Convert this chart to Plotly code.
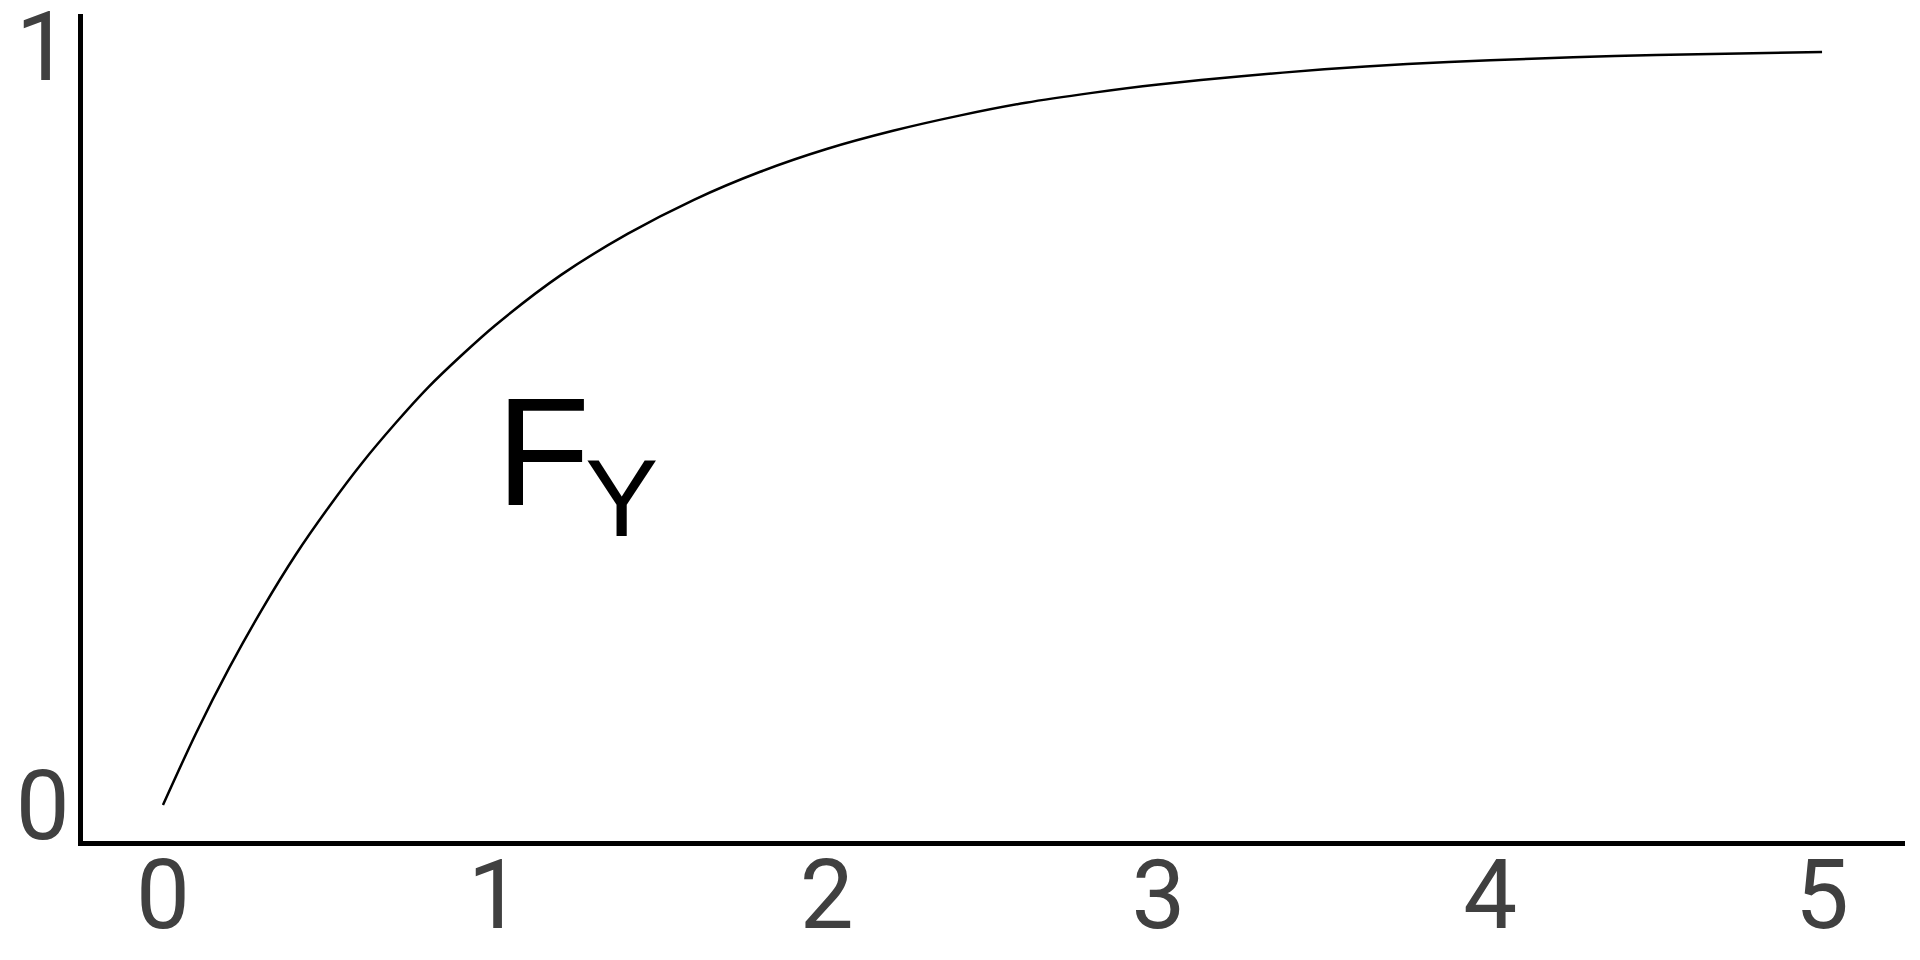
import plotly.graph_objects as go

# values
x_vals = [0.0, 0.1, 0.2, 0.3, 0.4, 0.5, 0.6, 0.7, 0.8, 0.9, 1.0, 1.2, 1.4, 1.6, 1.8,
          2.0, 2.2, 2.4, 2.6, 2.8, 3.0, 3.25, 3.5, 3.75, 4.0, 4.25, 4.5, 4.75, 5.0]
y_vals = [0.000, 0.095, 0.181, 0.259, 0.330, 0.393, 0.451, 0.503, 0.551, 0.593,
          0.632, 0.699, 0.753, 0.798, 0.835, 0.865, 0.889, 0.909, 0.926, 0.939,
          0.950, 0.961, 0.970, 0.977, 0.982, 0.986, 0.989, 0.991, 0.993]
x_ticks = [0, 1, 2, 3, 4, 5]
y_ticks = [0, 1]

fig = go.Figure()
fig.add_trace(go.Scatter(x=x_vals, y=y_vals, mode="lines",
                         line=dict(color="black", width=2.5, shape="spline", smoothing=0.8),
                         showlegend=False, hoverinfo="skip"))

fig.add_annotation(x=0.998, y=0.465, xref="x", yref="y", text="F", showarrow=False,
                   xanchor="left", yanchor="middle",
                   font=dict(family="Liberation Sans, Arial", size=154, color="black"))
fig.add_annotation(x=1.266, y=0.406, xref="x", yref="y", text="Y", showarrow=False,
                   xanchor="left", yanchor="middle",
                   font=dict(family="Liberation Sans, Arial", size=110, color="black"))

tickfont = dict(family="Roboto, Arial", size=96, color="#404040")
fig.update_xaxes(range=[-0.241, 5.25], tickvals=x_ticks, ticktext=[str(v) for v in x_ticks],
                 showgrid=False, zeroline=False, showline=True, linecolor="black",
                 linewidth=5, ticks="", tickfont=tickfont, ticklabelstandoff=-33,
                 automargin=False, ticklabeloverflow="allow")
fig.update_yaxes(range=[-0.0475, 1.043], tickvals=y_ticks, ticktext=[str(v) for v in y_ticks],
                 showgrid=False, zeroline=False, showline=True, linecolor="black",
                 linewidth=5, ticks="", tickfont=tickfont, ticklabelstandoff=-11,
                 automargin=False, ticklabeloverflow="allow")
fig.update_layout(width=1904, height=944, plot_bgcolor="white", paper_bgcolor="white",
                  margin=dict(l=75, r=7, t=6, b=111))
fig.write_html("out.html")
